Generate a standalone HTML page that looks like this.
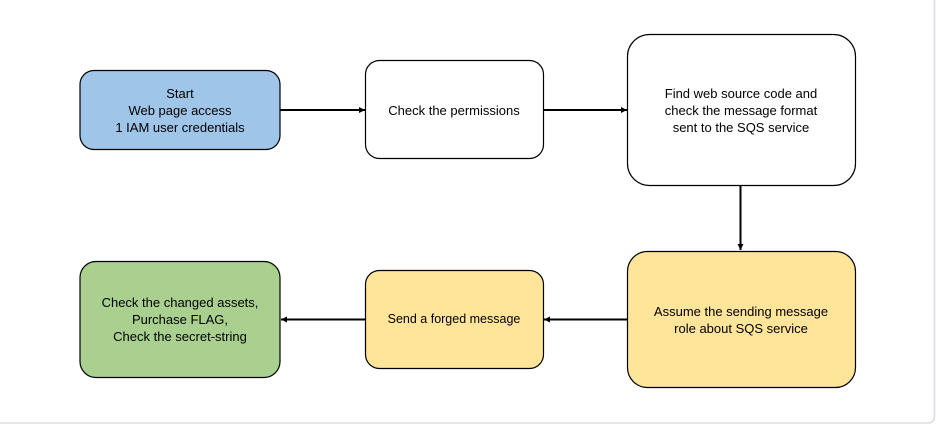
<!DOCTYPE html>
<html><head><style>
html,body{margin:0;padding:0;background:#fff;}
svg{display:block;}
text{font-family:"Liberation Sans","Noto Sans CJK KR",sans-serif;font-size:13px;fill:#000;}
</style></head><body>
<svg width="936" height="425" viewBox="0 0 936 425" xmlns="http://www.w3.org/2000/svg">
<defs><marker id="a" markerWidth="8" markerHeight="8" refX="6" refY="4" orient="auto" markerUnits="userSpaceOnUse"><path d="M0,1 L6,4 L0,7 Z" fill="#000"/></marker></defs>
<rect x="-10" y="-10" width="944.5" height="433" rx="6" fill="#fff" stroke="#d9dde3" stroke-width="1.5"/>
<g stroke="#000" stroke-width="1.2">
<rect x="80" y="70.5" width="200" height="79" rx="14" fill="#9fc5e8"/>
<rect x="365.5" y="60.5" width="178" height="98" rx="14" fill="#fff"/>
<rect x="627.5" y="34.5" width="228" height="151" rx="22" fill="#fff"/>
<rect x="627.5" y="251.5" width="228" height="136" rx="20" fill="#ffe599"/>
<rect x="365.5" y="270.5" width="178" height="98" rx="14" fill="#ffe599"/>
<rect x="80" y="261.5" width="200" height="116" rx="16" fill="#a9d08e"/>
</g>
<g stroke="#000" stroke-width="2" fill="none">
<line x1="280" y1="110" x2="365" y2="110" marker-end="url(#a)"/>
<line x1="543" y1="110" x2="627" y2="110" marker-end="url(#a)"/>
<line x1="740.5" y1="185" x2="740.5" y2="250" marker-end="url(#a)"/>
<line x1="627" y1="319.5" x2="544" y2="319.5" marker-end="url(#a)"/>
<line x1="365" y1="319.5" x2="281" y2="319.5" marker-end="url(#a)"/>
</g>
<g text-anchor="middle">
<text x="180" y="98">Start</text>
<text x="180" y="115">Web page access</text>
<text x="180" y="132">1 IAM user credentials</text>
<text x="454" y="115">Check the permissions</text>
<text x="741" y="98">Find web source code and</text>
<text x="741" y="115">check the message format</text>
<text x="741" y="132">sent to the SQS service</text>
<text x="741" y="316">Assume the sending message</text>
<text x="741" y="333">role about SQS service</text>
<text x="454" y="323" style="font-size:12.5px">Send a forged message</text>
<text x="180" y="307">Check the changed assets,</text>
<text x="180" y="324">Purchase FLAG,</text>
<text x="180" y="341">Check the secret-string</text>
</g>
</svg>
</body></html>
